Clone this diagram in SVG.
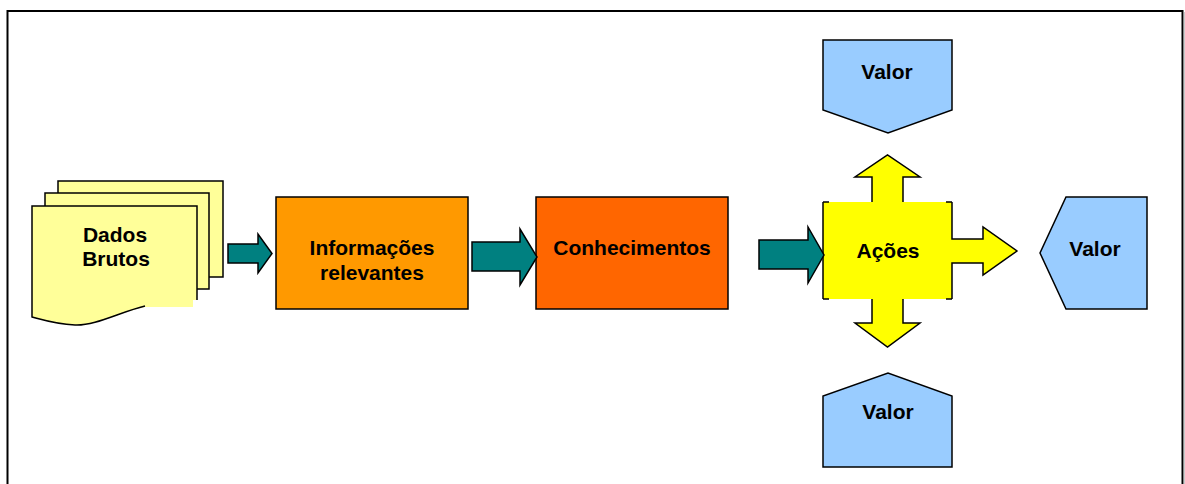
<svg xmlns="http://www.w3.org/2000/svg" width="1185" height="484" viewBox="0 0 1185 484">
<style>
  text { font-family: "Liberation Sans", Arial, sans-serif; font-weight: bold; font-size: 21px; fill: #000; text-anchor: middle; }
  .ln { stroke: #000; stroke-width: 1.5; stroke-linejoin: miter; }
  .doc { fill: #FFFF99; }
  .valor { fill: #99CCFF; }
  .teal { fill: #008080; }
</style>
<rect width="1185" height="484" fill="#fff"/>
<g id="frame">
  <path d="M7.5,484 V11 H1182.5 V484" fill="none" stroke="#000" stroke-width="2"/>
  <line x1="1184" y1="12" x2="1184" y2="484" stroke="#999" stroke-width="1"/>
</g>
<g id="dados-brutos">
  <rect x="58" y="181" width="165" height="96" class="doc ln"/>
  <rect x="45" y="193" width="164" height="96" class="doc ln"/>
  <path d="M32,206 H197 V300 H193 V307 H145 C120,312 95,326 75,325 C55,324 40,319 32,317 Z" class="doc"/>
  <path d="M145,306 C120,312 95,326 75,325 C55,324 40,319 32,317 V206 H197 V300" fill="none" class="ln"/>
  <text x="115" y="242">Dados</text>
  <text x="116" y="266">Brutos</text>
</g>
<g id="informacoes">
  <rect x="276" y="197" width="192" height="112" fill="#FF9900" class="ln"/>
  <text x="372" y="255">Informações</text>
  <text x="372" y="280">relevantes</text>
</g>
<g id="conhecimentos">
  <rect x="536" y="197" width="192" height="112" fill="#FF6600" class="ln"/>
  <text x="632" y="255">Conhecimentos</text>
</g>
<g id="acoes">
  <path d="M823,202 H872 V177 H855 L887.5,155 L920,177 H903 V202 H952 V239 H983 V227 L1017,251 L983,275 V263 H952 V299 H903 V323 H920 L887.5,347 L855,323 H872 V299 H823 Z" fill="#FFFF00"/>
  <path d="M872,202 V177 H855 L887.5,155 L920,177 H903 V202 M952,202 V239 H983 V227 L1017,251 L983,275 V263 H952 V299 M872,299 V323 H855 L887.5,347 L920,323 H903 V299 M823,299 V202 M823,202 H829 M946,202 H952 M823,299 H829 M946,299 H952" fill="none" class="ln"/>
  <text x="888" y="258">Ações</text>
</g>
<g id="valor-top">
  <path d="M823,40 H952 V110 L888,133 L823,110 Z" class="valor ln"/>
  <text x="887" y="79">Valor</text>
</g>
<g id="valor-bottom">
  <path d="M823,467 V396 L888,373 L952,396 V467 Z" class="valor ln"/>
  <text x="888" y="419">Valor</text>
</g>
<g id="valor-right">
  <path d="M1066,197 H1147 V309 H1066 L1040,253 Z" class="valor ln"/>
  <text x="1095" y="256">Valor</text>
</g>
<g id="connectors">
  <path d="M228,244 H258 V234 L272,253.5 L258,273 V263 H228 Z" class="teal ln"/>
  <path d="M472,242 H520 V229 L537,257 L520,285 V271 H472 Z" class="teal ln"/>
  <path d="M759,240 H808 V227 L824,255 L808,283 V269 H759 Z" class="teal ln"/>
</g>
</svg>
